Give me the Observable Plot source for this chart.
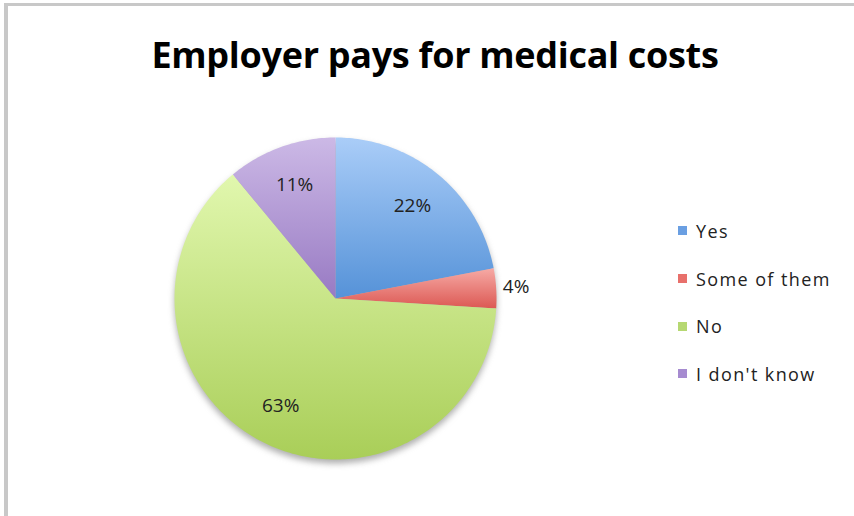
<!DOCTYPE html>
<html><head><meta charset="utf-8">
<script src="https://cdn.jsdelivr.net/npm/d3@7"></script>
<script src="https://cdn.jsdelivr.net/npm/@observablehq/plot@0.6"></script>
<style>
body{margin:0;background:#fff;}
#frame{position:relative;width:854px;height:516px;overflow:hidden;font-family:"Open Sans",sans-serif;background:#fff;}
#border{position:absolute;left:4px;top:3px;width:900px;height:511px;border-left:4px solid #c8c8c8;border-top:3px solid #c8c8c8;border-bottom:1px solid #ececec;pointer-events:none;}
#title{height:100px;width:870px;color:#000;position:relative;}
#title span{position:absolute;left:0;right:0;top:35px;text-align:center;font-weight:700;font-size:36px;line-height:40px;letter-spacing:-0.3px;}
#legend{position:absolute;left:678px;top:207px;font-size:18px;letter-spacing:1.4px;color:#222;}
.item{display:flex;align-items:center;height:47.7px;}
.item .sw{width:9px;height:9px;margin-right:9px;}
#chart svg{display:block;}
</style></head>
<body>
<div id="frame">
  <div id="title"><span>Employer pays for medical costs</span></div>
  <div id="chart"></div>
  <div id="legend"></div>
  <div id="border"></div>
</div>
<svg width="0" height="0" style="position:absolute"><defs id="defs"></defs></svg>
<script>
const categories = ["Yes", "Some of them", "No", "I don't know"];
const shares = [22, 4, 63, 11];
const labels = ["22%", "4%", "63%", "11%"];
const topColors = ["#aacdf8", "#f6aaa5", "#e1f7ae", "#ccb9e6"];
const bottomColors = ["#5592d8", "#dc5853", "#a9ce58", "#987ac3"];
const legendColors = ["#6a9fe2", "#e8706b", "#b6d872", "#a68bd0"];

// gradients
const ns = "http://www.w3.org/2000/svg";
const defs = document.getElementById("defs");
categories.forEach((c, i) => {
  const g = document.createElementNS(ns, "linearGradient");
  g.setAttribute("id", "g" + i);
  g.setAttribute("x1", "0"); g.setAttribute("y1", "0");
  g.setAttribute("x2", "0"); g.setAttribute("y2", "1");
  [[0, topColors[i]], [1, bottomColors[i]]].forEach(([o, col]) => {
    const s = document.createElementNS(ns, "stop");
    s.setAttribute("offset", o);
    s.setAttribute("stop-color", col);
    g.appendChild(s);
  });
  defs.appendChild(g);
});

const W = 854, H = 416, CX = 335, CY = 198, R = 161;
const arcs = d3.pie().sort(null).value(d => d)(shares);
const step = Math.PI / 180;
const polys = arcs.map((a, i) => {
  const pts = [{x: 0, y: 0}];
  const n = Math.max(2, Math.ceil((a.endAngle - a.startAngle) / step));
  for (let k = 0; k <= n; k++) {
    const t = a.startAngle + (a.endAngle - a.startAngle) * k / n;
    pts.push({x: Math.sin(t), y: Math.cos(t)});
  }
  pts.push({x: 0, y: 0});
  return pts;
});
const circle = d3.range(0, 361, 2).map(t => ({x: Math.sin(t * step), y: Math.cos(t * step)}));
const labelData = arcs.map((a, i) => {
  const m = (a.startAngle + a.endAngle) / 2;
  const rr = shares[i] < 5 ? 1 + 20 / R : 0.75;
  return {x: rr * Math.sin(m), y: rr * Math.cos(m), text: labels[i]};
});

const marks = [
  Plot.line(circle, {x: "x", y: "y", fill: "#6e6e6e", fillOpacity: 0.55, stroke: "none", dy: 4})
];
polys.forEach((p, i) => marks.push(Plot.line(p, {x: "x", y: "y", fill: `url(#g${i})`, stroke: "none"})));
marks.push(Plot.text(labelData, {x: "x", y: "y", text: "text", fontSize: 19, fill: "#222", fontFamily: "Open Sans"}));

const plot = Plot.plot({
  width: W, height: H, margin: 0,
  x: {domain: [-CX / R, (W - CX) / R], axis: null},
  y: {domain: [-(H - CY) / R, CY / R], axis: null},
  style: {background: "transparent", fontFamily: "Open Sans"},
  marks
});
const sh = plot.querySelector('g[aria-label="line"]');
if (sh) sh.style.filter = "blur(3px)";
document.getElementById("chart").appendChild(plot);

const lg = document.getElementById("legend");
categories.forEach((c, i) => {
  const it = document.createElement("div");
  it.className = "item";
  const sw = document.createElement("div");
  sw.className = "sw";
  sw.style.background = legendColors[i];
  const tx = document.createElement("span");
  tx.textContent = c;
  it.appendChild(sw); it.appendChild(tx);
  lg.appendChild(it);
});
</script>
</body></html>
